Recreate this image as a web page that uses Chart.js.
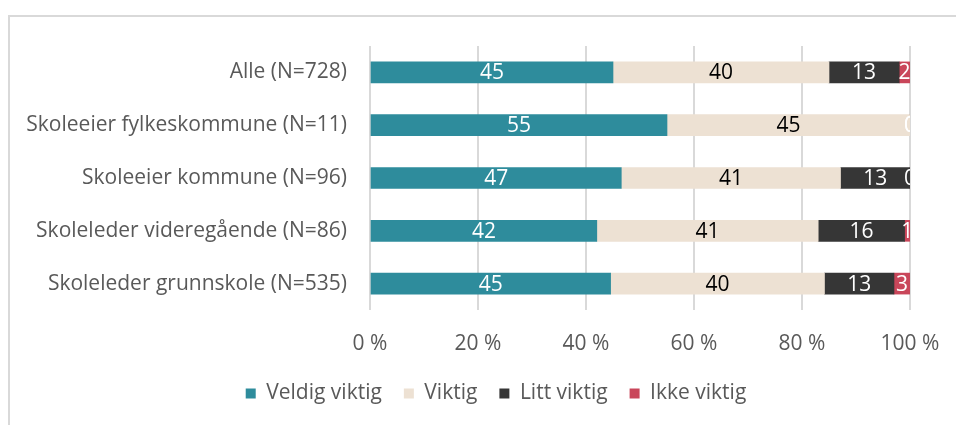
<!DOCTYPE html>
<html>
<head>
<meta charset="utf-8">
<script src="https://cdn.jsdelivr.net/npm/chart.js@4.4.1/dist/chart.umd.min.js"></script>
<style>
  html, body { margin: 0; padding: 0; background: #fff; overflow: hidden; }
  #frame { position: absolute; left: 8px; top: 15px; width: 1000px; height: 500px;
           border: 2px solid #d9d9d9; box-sizing: border-box; }
  canvas { position: absolute; left: 0; top: 0; }
</style>
</head>
<body>
<div id="frame"></div>
<canvas id="chart" width="956" height="425"></canvas>
<script>
const categories = [
  'Alle (N=728)',
  'Skoleeier fylkeskommune (N=11)',
  'Skoleeier kommune (N=96)',
  'Skoleleder videregående (N=86)',
  'Skoleleder grunnskole (N=535)'
];
const seriesNames = ['Veldig viktig', 'Viktig', 'Litt viktig', 'Ikke viktig'];
const veldigViktig = [45, 55, 47, 42, 45];
const viktig = [40, 45, 41, 41, 40];
const littViktig = [13, 0, 13, 16, 13];
const ikkeViktig = [2, 0, 0, 1, 3];
const xTicks = [0, 20, 40, 60, 80, 100];

const colors = ['#2e8c9c', '#ede1d3', '#363636', '#c9465a'];
const labelColors = ['#ffffff', '#000000', '#ffffff', '#ffffff'];
const FONT = '"Open Sans", sans-serif';

const raw = [veldigViktig, viktig, littViktig, ikkeViktig];
const totals = categories.map((c, i) => raw.reduce((s, arr) => s + arr[i], 0));
// 100 % stacked: share of each row
const shares = raw.map(arr => arr.map((v, i) => v / totals[i] * 100));

const barLabels = {
  id: 'barLabels',
  afterDatasetsDraw(chart) {
    const ctx = chart.ctx;
    const area = chart.chartArea;
    ctx.save();
    ctx.beginPath();
    ctx.rect(area.left, area.top, area.right - area.left, area.bottom - area.top);
    ctx.clip();
    ctx.font = '21px ' + FONT;
    ctx.textAlign = 'center';
    ctx.textBaseline = 'middle';
    chart.data.datasets.forEach((ds, di) => {
      const meta = chart.getDatasetMeta(di);
      meta.data.forEach((el, i) => {
        const p = el.getCenterPoint();
        ctx.fillStyle = labelColors[di];
        ctx.fillText(String(raw[di][i]), p.x, p.y + 1);
      });
    });
    ctx.restore();
  }
};

// legend is centred on the whole frame, not on the plot column
const legendShift = {
  id: 'legendShift',
  afterLayout(chart) {
    chart.legend.left += 41;
    chart.legend.right += 41;
  }
};

new Chart(document.getElementById('chart'), {
  type: 'bar',
  data: {
    labels: categories,
    datasets: seriesNames.map((name, i) => ({
      label: name,
      data: shares[i],
      backgroundColor: colors[i],
      borderWidth: 0,
      barThickness: 21
    }))
  },
  options: {
    indexAxis: 'y',
    responsive: false,
    animation: false,
    layout: { padding: { top: 46, right: 46, bottom: 11, left: 0 } },
    plugins: {
      tooltip: { enabled: false },
      legend: {
        position: 'bottom',
        labels: {
          boxWidth: 10, boxHeight: 10, padding: 22,
          color: '#595959',
          font: { family: FONT, size: 21 }
        }
      }
    },
    scales: {
      x: {
        stacked: true,
        min: 0, max: 100,
        afterBuildTicks: s => { s.ticks = xTicks.map(v => ({ value: v })); },
        afterFit: s => { s.height = 51; s.paddingLeft = 0; s.paddingRight = 0; },
        grid: { color: '#d9d9d9', lineWidth: 2, drawTicks: false },
        border: { display: false },
        ticks: {
          padding: 21,
          color: '#595959',
          font: { family: FONT, size: 21 },
          callback: v => v + ' %'
        }
      },
      y: {
        stacked: true,
        afterFit: s => { s.width = 370; },
        grid: { display: false },
        border: { display: false },
        ticks: {
          padding: 15,
          color: '#595959',
          font: { family: FONT, size: 21 }
        }
      }
    }
  },
  plugins: [barLabels, legendShift]
});
</script>
</body>
</html>
